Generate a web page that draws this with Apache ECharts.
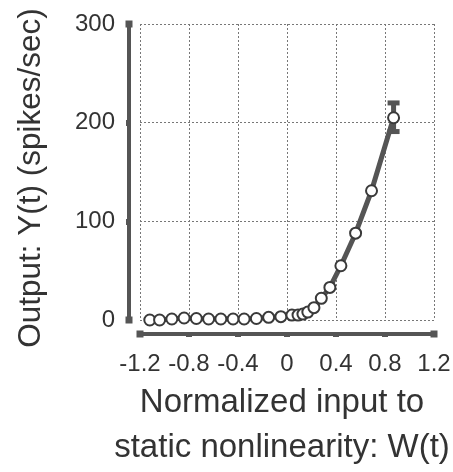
<!DOCTYPE html>
<html>
<head>
<meta charset="utf-8">
<script src="https://cdn.jsdelivr.net/npm/echarts@6/dist/echarts.min.js"></script>
<style>
  html, body { margin: 0; padding: 0; background: #fff; }
  #chart { width: 453px; height: 472px; }
</style>
</head>
<body>
<div id="chart"></div>
<script>
// normalized input W(t) and output rate Y(t)
var inputW = [-1.12, -1.04, -0.94, -0.84, -0.74, -0.64, -0.54, -0.44, -0.35, -0.25, -0.15, -0.05,
  0.04, 0.09, 0.13, 0.17, 0.22, 0.28, 0.35, 0.44, 0.56, 0.69, 0.87];
var outputY = [0, 0, 1, 2, 1.5, 1, 1, 1, 1, 1.5, 2.7, 3.4,
  5, 5, 6, 8, 12.5, 22, 33, 55, 88, 131, 205];
// error bar only visible on the last point
var errW = [0.87];
var errLow = [191];
var errHigh = [220];

var xTicks = [-1.2, -0.8, -0.4, 0, 0.4, 0.8, 1.2];
var yTicks = [0, 100, 200, 300];

var textColor = '#333';
var lineColor = '#555';
var font = '"Liberation Sans", Arial, sans-serif';

var points = inputW.map(function(w, i) { return [w, outputY[i]]; });
var errData = errW.map(function(w, i) { return [w, errLow[i], errHigh[i]]; });

var chart = echarts.init(document.getElementById('chart'));
var option = {
  animation: false,
  backgroundColor: '#fff',
  grid: { left: 140, right: 19, top: 24, bottom: 152, outerBoundsMode: 'none', containLabel: false },
  xAxis: {
    type: 'value',
    min: xTicks[0],
    max: xTicks[xTicks.length - 1],
    interval: 0.4,
    offset: 14,
    name: 'Normalized input to\nstatic nonlinearity: W(t)',
    nameLocation: 'middle',
    nameGap: 46,
    nameTextStyle: { fontSize: 33, color: textColor, fontFamily: font, lineHeight: 45, padding: [0, 10, 0, 0] },
    axisLine: {
      show: true,
      onZero: false,
      symbol: ['rect', 'rect'],
      symbolSize: [7, 7],
      lineStyle: { color: lineColor, width: 4 }
    },
    axisTick: { show: true, length: 3, lineStyle: { color: lineColor, width: 6 } },
    axisLabel: {
      fontSize: 24, color: textColor, fontFamily: font, margin: 18,
      formatter: function(v) { return String(Math.round(v * 10) / 10); }
    },
    splitLine: { show: true, lineStyle: { color: '#777', type: [2, 2], width: 1 } }
  },
  yAxis: {
    type: 'value',
    min: yTicks[0],
    max: yTicks[yTicks.length - 1],
    interval: 100,
    offset: 11,
    name: 'Output: Y(t) (spikes/sec)',
    nameLocation: 'middle',
    nameGap: 82,
    nameTextStyle: { fontSize: 31.5, color: textColor, fontFamily: font, padding: [0, 12, 0, 0] },
    axisLine: {
      show: true,
      onZero: false,
      symbol: ['rect', 'rect'],
      symbolSize: [7, 7],
      lineStyle: { color: lineColor, width: 4 }
    },
    axisTick: { show: true, length: 3, lineStyle: { color: lineColor, width: 6 } },
    axisLabel: { fontSize: 24, color: textColor, fontFamily: font, margin: 14 },
    splitLine: { show: true, lineStyle: { color: '#777', type: [2, 2], width: 1 } }
  },
  series: [
    {
      type: 'custom',
      z: 1,
      data: errData,
      renderItem: function(params, api) {
        var top = api.coord([api.value(0), api.value(2)]);
        var bot = api.coord([api.value(0), api.value(1)]);
        var half = 6;
        var st = { stroke: lineColor, lineWidth: 5 };
        return {
          type: 'group',
          children: [
            { type: 'line', shape: { x1: top[0], y1: top[1], x2: bot[0], y2: bot[1] }, style: st },
            { type: 'line', shape: { x1: top[0] - half, y1: top[1], x2: top[0] + half, y2: top[1] }, style: st },
            { type: 'line', shape: { x1: bot[0] - half, y1: bot[1], x2: bot[0] + half, y2: bot[1] }, style: st }
          ]
        };
      }
    },
    {
      type: 'line',
      z: 3,
      data: points,
      symbol: 'circle',
      symbolSize: 11,
      lineStyle: { color: lineColor, width: 5 },
      itemStyle: { color: '#fff', borderColor: '#3a3a3a', borderWidth: 2 }
    }
  ]
};
chart.setOption(option);
</script>
</body>
</html>
